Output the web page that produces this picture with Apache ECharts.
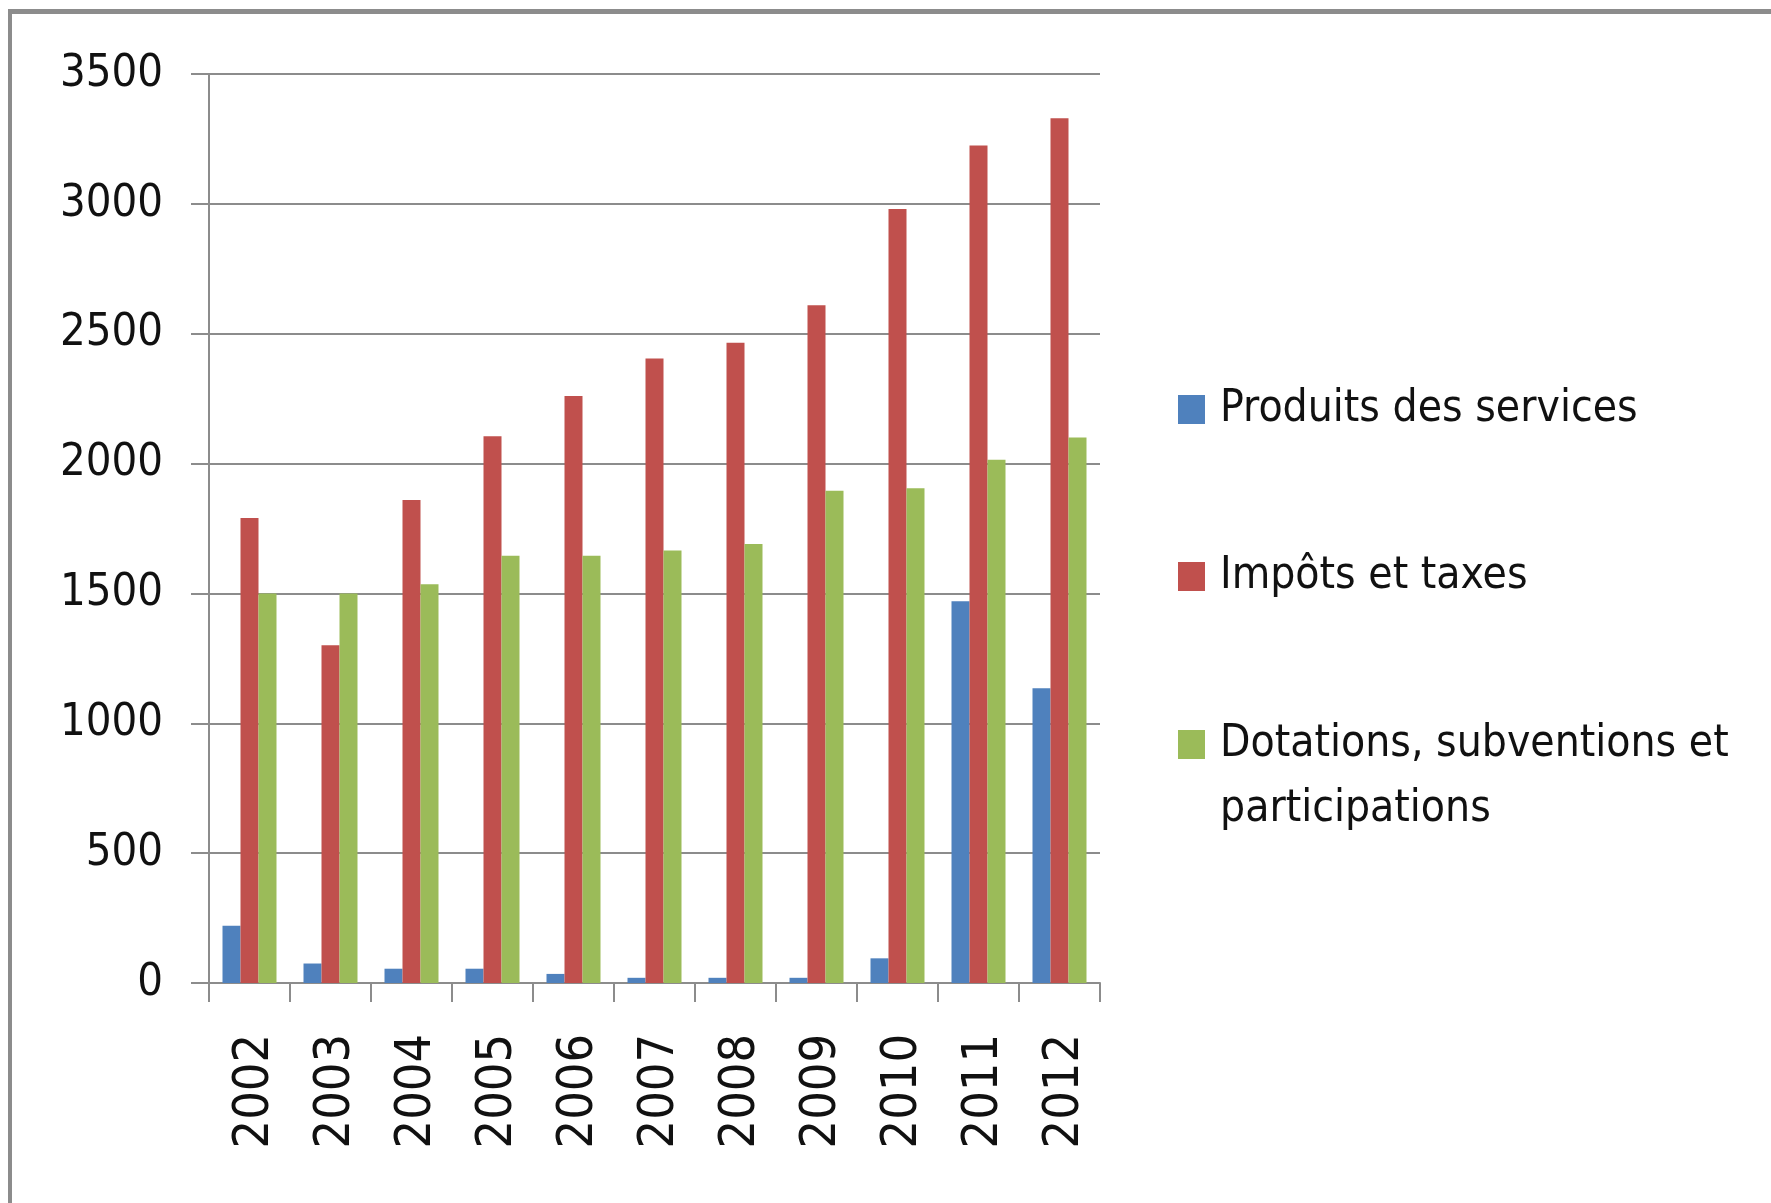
<!DOCTYPE html>
<html>
<head>
<meta charset="utf-8">
<script src="https://cdn.jsdelivr.net/npm/echarts@6/dist/echarts.min.js"></script>
<style>
  html, body { margin: 0; padding: 0; background: #fff; }
  #chart { position: absolute; left: 0; top: 0; width: 1771px; height: 1203px; }
  #frame { position: absolute; left: 8px; top: 9px; width: 1800px; height: 1300px;
           border-top: 5px solid #8c8c8c; border-left: 4px solid #8c8c8c; pointer-events: none; }
</style>
</head>
<body>
<div id="chart"></div>
<div id="frame"></div>
<script>
const years = ['2002','2003','2004','2005','2006','2007','2008','2009','2010','2011','2012'];
const produitsServices = [220, 75, 55, 55, 35, 20, 20, 20, 95, 1470, 1135];
const impotsTaxes = [1790, 1300, 1860, 2105, 2260, 2405, 2465, 2610, 2980, 3225, 3330];
const dotations = [1500, 1500, 1535, 1645, 1645, 1665, 1690, 1895, 1905, 2015, 2100];
const seriesNames = ['Produits des services', 'Impôts et taxes', 'Dotations, subventions et participations'];
const colors = ['#4F81BD', '#C0504D', '#9BBB59'];
const yTicks = { min: 0, max: 3500, interval: 500 };

const FONT = "'Liberation Sans Narrow', 'DejaVu Sans Condensed', 'Arial Narrow', sans-serif";
const chart = echarts.init(document.getElementById('chart'), null, { renderer: 'canvas' });

const mk = (name, data, color) => ({
  name, type: 'bar', data, barWidth: 18, barGap: '0%',
  itemStyle: { color }
});

const legendBase = {
  orient: 'vertical', left: 1178, padding: 0,
  itemWidth: 27, itemHeight: 29, itemGap: 102, icon: 'rect',
  formatter: n => n === seriesNames[2] ? '\nDotations, subventions et\nparticipations' : n,
  textStyle: { fontFamily: FONT, fontSize: 44, color: '#111', lineHeight: 65, padding: [0, 0, 0, 10] }
};

chart.setOption({
  animation: false,
  color: colors,
  grid: { left: 209, top: 74, right: 671, bottom: 220, containLabel: false },
  legend: [
    Object.assign({}, legendBase, { top: 377, data: [seriesNames[0], seriesNames[1]] }),
    Object.assign({}, legendBase, { top: 647, data: [seriesNames[2]] })
  ],
  xAxis: {
    type: 'category', data: years, boundaryGap: true,
    axisLine: { lineStyle: { color: '#8c8c8c', width: 2 } },
    axisTick: { show: true, length: 19, lineStyle: { color: '#8c8c8c', width: 2 } },
    axisLabel: { rotate: 90, margin: 51, fontFamily: FONT, fontSize: 50, color: '#111', interval: 0,
                 verticalAlign: 'top', lineHeight: 12 }
  },
  yAxis: {
    type: 'value', min: yTicks.min, max: yTicks.max, interval: yTicks.interval,
    axisLine: { show: true, lineStyle: { color: '#8c8c8c', width: 2 } },
    axisTick: { show: true, length: 18, lineStyle: { color: '#8c8c8c', width: 2 } },
    splitLine: { lineStyle: { color: '#8c8c8c', width: 2 } },
    axisLabel: { margin: 46, fontFamily: FONT, fontSize: 45, color: '#111', formatter: v => String(v) }
  },
  series: [
    mk(seriesNames[0], produitsServices, colors[0]),
    mk(seriesNames[1], impotsTaxes, colors[1]),
    mk(seriesNames[2], dotations, colors[2])
  ]
});
</script>
</body>
</html>
